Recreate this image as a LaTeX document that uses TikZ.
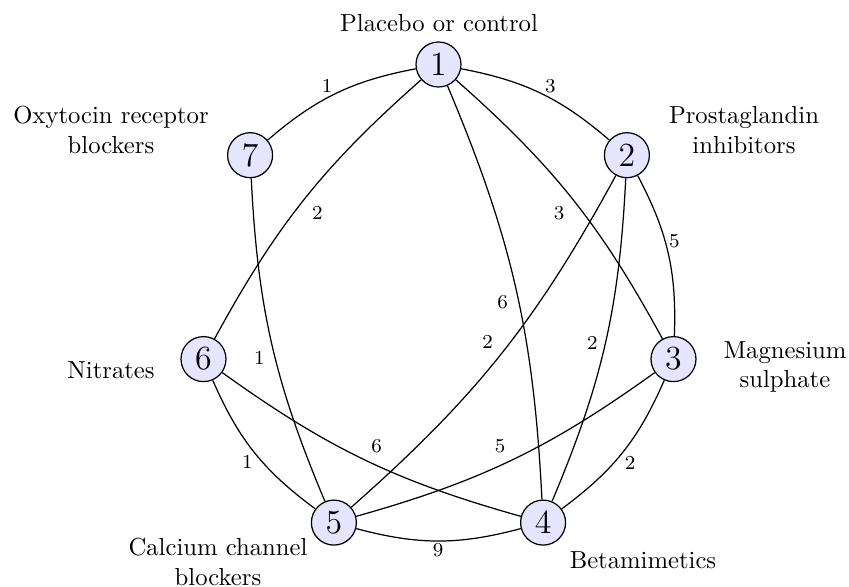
\documentclass[tikz,border=0pt]{standalone}
\usepackage{tikz}
\begin{document}
\begin{tikzpicture}[x=0.4055pt,y=-0.4055pt,
  vert/.style={circle,draw,line width=0.5pt,fill=blue!10,minimum size=18.25pt,inner sep=0pt,font=\fontsize{13.7}{16}\selectfont},
  edge/.style={line width=0.5pt},
  elab/.style={font=\footnotesize,inner sep=0pt},
  txt/.style={align=center,inner sep=0pt,font=\normalsize}]
\useasboundingbox (0,0) rectangle (849,587);
\node[vert] (n1) at (438.5,64.5) {1};
\node[vert] (n2) at (626.9,155.2) {2};
\node[vert] (n3) at (673.5,359.1) {3};
\node[vert] (n4) at (543.1,522.6) {4};
\node[vert] (n5) at (333.9,522.6) {5};
\node[vert] (n6) at (203.5,359.1) {6};
\node[vert] (n7) at (250.1,155.2) {7};
% adjacent
\draw[edge] (n1) to[bend left=15] (n2);
\draw[edge] (n2) to[bend left=15] (n3);
\draw[edge] (n3) to[bend left=15] (n4);
\draw[edge] (n4) to[bend left=15] (n5);
\draw[edge] (n5) to[bend left=15] (n6);
\draw[edge] (n7) to[bend left=15] (n1);
% chords
\draw[edge] (n1) to[bend left=10] (n3);
\draw[edge] (n1) to[bend left=10] (n4);
\draw[edge] (n6) to[bend left=10] (n1);
\draw[edge] (n2) to[bend left=10] (n4);
\draw[edge] (n2) to[bend left=10] (n5);
\draw[edge] (n3) to[bend left=10] (n5);
\draw[edge] (n4) to[bend left=10] (n6);
\draw[edge] (n5) to[bend left=10] (n7);
% edge labels
\node[elab] (l17) at (327,86) {1};
\node[elab] (l12) at (550.4,86) {3};
\node[elab] (l16) at (317.3,213.3) {2};
\node[elab] (l13) at (559,212.7) {3};
\node[elab] (l23) at (674.3,241) {5};
\node[elab] (l14) at (502.7,302.3) {6};
\node[elab] (l25) at (487.7,342.3) {2};
\node[elab] (l24) at (592.3,343.3) {2};
\node[elab] (l57) at (259.3,357.7) {1};
\node[elab] (l56) at (247.3,461.7) {1};
\node[elab] (l46) at (376.7,446) {6};
\node[elab] (l35) at (500,446) {5};
\node[elab] (l34) at (630,462.7) {2};
\node[elab] (l45) at (438.2,549.8) {9};
% names
\node[txt] (t1) at (439,23) {Placebo or control};
\node[txt] (t2) at (744,130) {Prostaglandin\\inhibitors};
\node[txt] (t3) at (785,367) {Magnesium\\sulphate};
\node[txt] (t4) at (643,560) {Betamimetics};
\node[txt] (t5) at (218,562) {Calcium channel\\blockers};
\node[txt] (t6) at (111,370) {Nitrates};
\node[txt] (t7) at (111,130) {Oxytocin receptor\\blockers};
\end{tikzpicture}
\end{document}
